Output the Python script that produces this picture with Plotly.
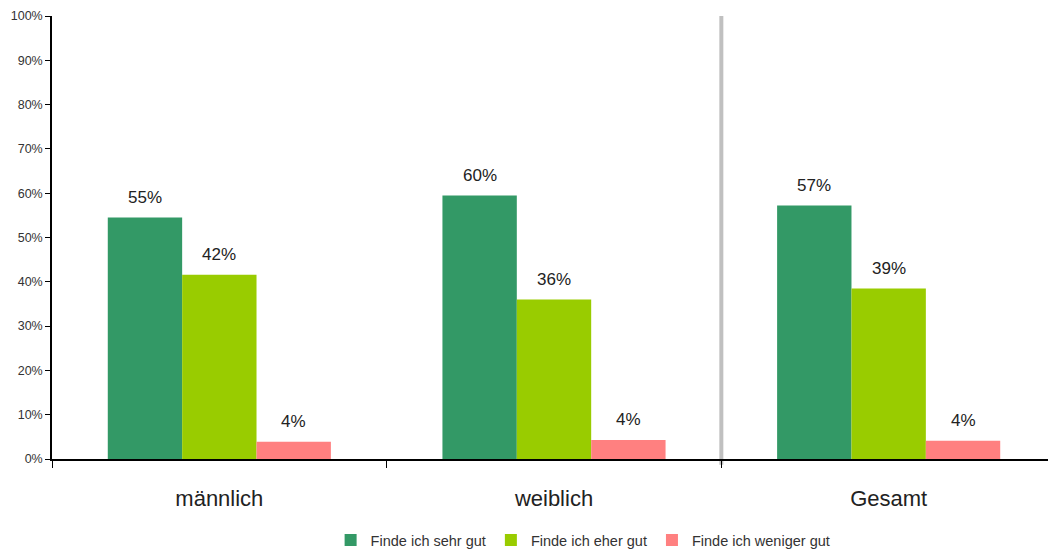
import plotly.graph_objects as go

categories = ["männlich", "weiblich", "Gesamt"]
series_names = ["Finde ich sehr gut", "Finde ich eher gut", "Finde ich weniger gut"]
sehr_gut = [54.5, 59.5, 57.2]
eher_gut = [41.6, 36.0, 38.5]
weniger_gut = [3.9, 4.3, 4.1]
labels_sehr = ["55%", "60%", "57%"]
labels_eher = ["42%", "36%", "39%"]
labels_weniger = ["4%", "4%", "4%"]
colors = ["#339966", "#99CC00", "#FF8080"]

FONT = "Liberation Sans Narrow, Arial Narrow, Liberation Sans, Arial, sans-serif"

# page body has an 8px default margin; figure sized to compensate
W, H = 1048, 545
ML, MR, MT, MB = 44, 0, 8, 94

fig = go.Figure()
all_series = [sehr_gut, eher_gut, weniger_gut]
all_labels = [labels_sehr, labels_eher, labels_weniger]
for name, vals, col in zip(series_names, all_series, colors):
    fig.add_trace(go.Bar(
        x=categories, y=vals, name=name, marker=dict(color=col, line=dict(width=0)),
    ))

plot_w = W - ML - MR
cat_w = plot_w / 3
bar_w = cat_w * (2 / 3) / 3
for si, (vals, labs) in enumerate(zip(all_series, all_labels)):
    for cat, v, lab in zip(categories, vals, labs):
        fig.add_annotation(x=cat, y=v, text=lab, showarrow=False, xref="x", yref="y",
                           xshift=(si - 1) * bar_w, yshift=20, yanchor="middle",
                           font=dict(size=17, family=FONT, color="#222222"))

fig.add_shape(type="line", xref="x", yref="paper", x0=1.5, x1=1.5, y0=-0.013, y1=1,
              line=dict(color="#C0C0C0", width=4), layer="below")

fig.update_layout(
    width=W, height=H,
    margin=dict(l=ML, r=MR, t=MT, b=MB, autoexpand=False),
    paper_bgcolor="white", plot_bgcolor="white",
    barmode="group", bargap=1/3, bargroupgap=0,
    font=dict(family=FONT, color="#333333"),
    showlegend=True,
    legend=dict(orientation="h", x=0.529, xanchor="center",
                yref="container", y=1 - 532 / H, yanchor="middle",
                font=dict(size=14.5, family=FONT, color="#333333"), traceorder="normal",
                itemwidth=30),
    xaxis=dict(range=[-0.5, 2.5], showline=True, linecolor="black", linewidth=1.5,
               ticks="outside", tickson="boundaries", ticklen=7, tickcolor="black",
               ticklabelstandoff=19, automargin=False,
               tickfont=dict(size=22, family=FONT, color="#222222"), showgrid=False),
    yaxis=dict(range=[0, 100], dtick=10, ticksuffix="%", showline=True, linecolor="black",
               linewidth=1.5, ticks="outside", ticklen=5, tickcolor="black", automargin=False,
               tickfont=dict(size=12.5, family=FONT, color="#333333"), showgrid=False,
               zeroline=False),
)

fig.write_html("out.html")
